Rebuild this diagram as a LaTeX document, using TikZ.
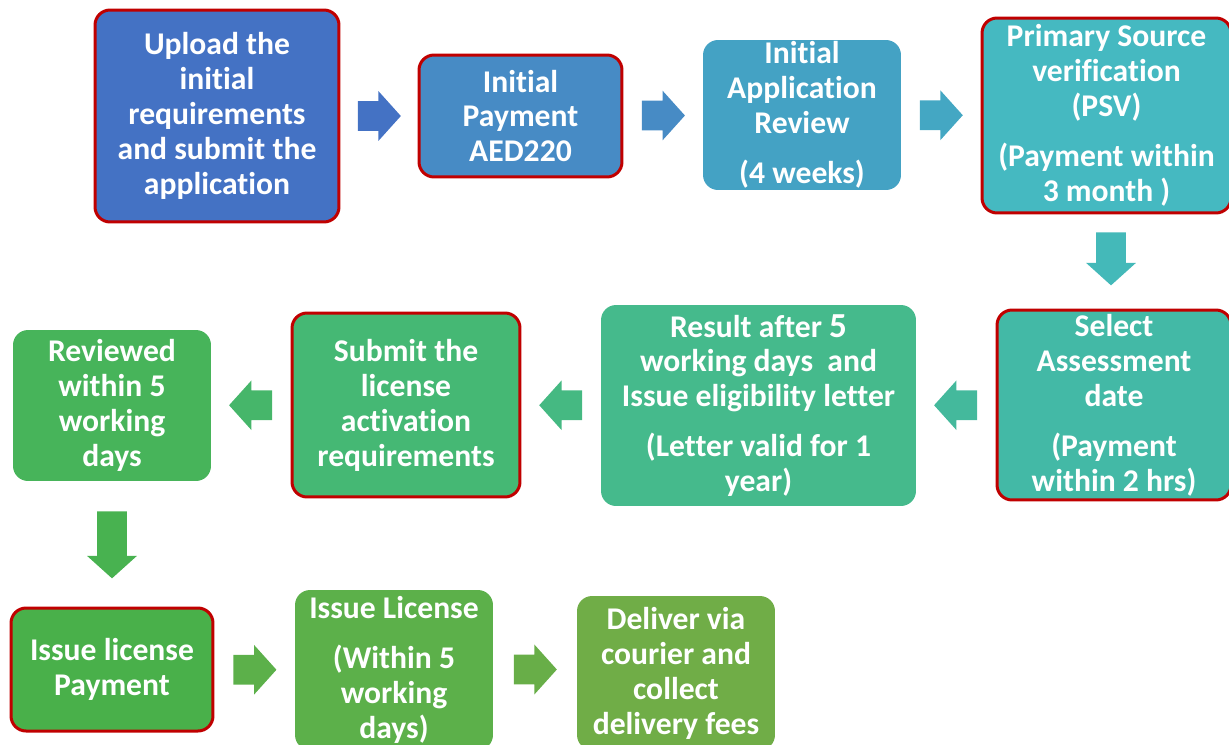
\documentclass[tikz,border=0pt]{standalone}
\usepackage{fontspec}
\setmainfont{Carlito}[Ligatures=NoCommon]
\usetikzlibrary{shapes.arrows,calc}

\definecolor{rojo}{HTML}{C00000}
\definecolor{cA}{HTML}{4472C4}
\definecolor{cB}{HTML}{478BC5}
\definecolor{cC}{HTML}{44A2C4}
\definecolor{cD}{HTML}{45B9C1}
\definecolor{cE}{HTML}{43B9A6}
\definecolor{cF}{HTML}{45BA8C}
\definecolor{cG}{HTML}{45B874}
\definecolor{cH}{HTML}{47B45A}
\definecolor{cI}{HTML}{49B04A}
\definecolor{cJ}{HTML}{5CB04A}
\definecolor{cK}{HTML}{70AD47}

\tikzset{
  paso/.style={rounded corners=0.3cm, inner sep=0pt, align=center, text=white,
    font=\bfseries\fontsize{18}{19.9}\selectfont},
  borde/.style={draw=rojo, line width=0.06cm},
  flecha/.style={single arrow, anchor=tail, minimum height=0.86cm, inner xsep=0pt, inner ysep=0.29cm,
    single arrow head extend=0.2cm, single arrow tip angle=96},
  flechabaja/.style={flecha, shape border rotate=270, inner xsep=0.29cm, inner ysep=0pt},
}

\begin{document}
\begin{tikzpicture}[x=0.02cm, y=-0.02cm]
    \clip (0,0) rectangle (1229,744);

    % Primera fila
    \node[paso, borde, fill=cA, minimum width=4.88cm, minimum height=4.24cm] (upload) at (217,116)
        {Upload the\\initial\\requirements\\and submit the\\application};
    \node[paso, borde, fill=cB, minimum width=4.06cm, minimum height=2.44cm] (payment) at (520.5,116)
        {Initial\\Payment\\AED220};
    \node[paso, fill=cC, minimum width=3.96cm, minimum height=3.0cm] (review) at (802,115)
        {Initial\\Application\\Review\\[8.5pt](4 weeks)};
    \node[paso, borde, fill=cD, minimum width=4.98cm, minimum height=3.9cm] (psv) at (1106.5,115.5)
        {Primary Source\\verification\\(PSV)\\[8.5pt](Payment within\\3 month )};

    % Segunda fila
    \node[paso, borde, fill=cE, minimum width=4.68cm, minimum height=3.8cm] (assess) at (1114,405)
        {Select\\Assessment\\date\\[8.5pt](Payment\\within 2 hrs)};
    \node[paso, fill=cF, minimum width=6.3cm, minimum height=4.02cm] (result) at (758.5,405.5)
        {Result after {\fontsize{20}{19.9}\selectfont 5}\\working days\ \ and\\Issue eligibility letter\\[8.5pt](Letter valid for 1\\year)};
    \node[paso, borde, fill=cG, minimum width=4.56cm, minimum height=3.68cm] (activation) at (406,405)
        {Submit the\\license\\activation\\requirements};
    \node[paso, fill=cH, minimum width=3.96cm, minimum height=3.02cm] (reviewed) at (112,405.5)
        {Reviewed\\within 5\\working\\days};

    % Tercera fila
    \node[paso, borde, fill=cI, minimum width=4.04cm, minimum height=2.46cm] (licpay) at (112,669.5)
        {Issue license\\Payment};
    \node[paso, fill=cJ, minimum width=3.96cm, minimum height=3.2cm] (license) at (394,670)
        {Issue License\\[8.5pt](Within 5\\working\\days)};
    \node[paso, fill=cK, minimum width=3.96cm, minimum height=3.08cm] (deliver) at (676,673)
        {Deliver via\\courier and\\collect\\delivery fees};

    % Flechas
    \node[flecha, fill=cA] (f1) at ($(upload.east)!0.5!(payment.west)+(-21.5,0)$) {};
    \node[flecha, fill=cB] (f2) at ($(payment.east)!0.5!(review.west)+(-21.5,0)$) {};
    \node[flecha, fill=cC!80!cD] (f3) at ($(review.east)!0.5!(psv.west)+(-21.5,0)$) {};
    \node[flechabaja, fill=cD!70!cE, minimum height=1.06cm] (f4) at (1111,232) {};
    \node[flecha, fill=cE!60!cF, shape border rotate=180] (f5) at ($(assess.west)!0.5!(result.east)+(21.5,0)$) {};
    \node[flecha, fill=cF!60!cG, shape border rotate=180] (f6) at ($(result.west)!0.5!(activation.east)+(21.5,0)$) {};
    \node[flecha, fill=cG!60!cH, shape border rotate=180] (f7) at ($(activation.west)!0.5!(reviewed.east)+(21.5,0)$) {};
    \node[flechabaja, fill=cH!40!cI, minimum height=1.34cm] (f8) at (112,511) {};
    \node[flecha, fill=cJ] (f9) at ($(licpay.east)!0.5!(license.west)+(-21.5,0)$) {};
    \node[flecha, fill=cJ!40!cK] (f10) at ($(license.east)!0.5!(deliver.west)+(-21.5,-2)$) {};
\end{tikzpicture}
\end{document}
